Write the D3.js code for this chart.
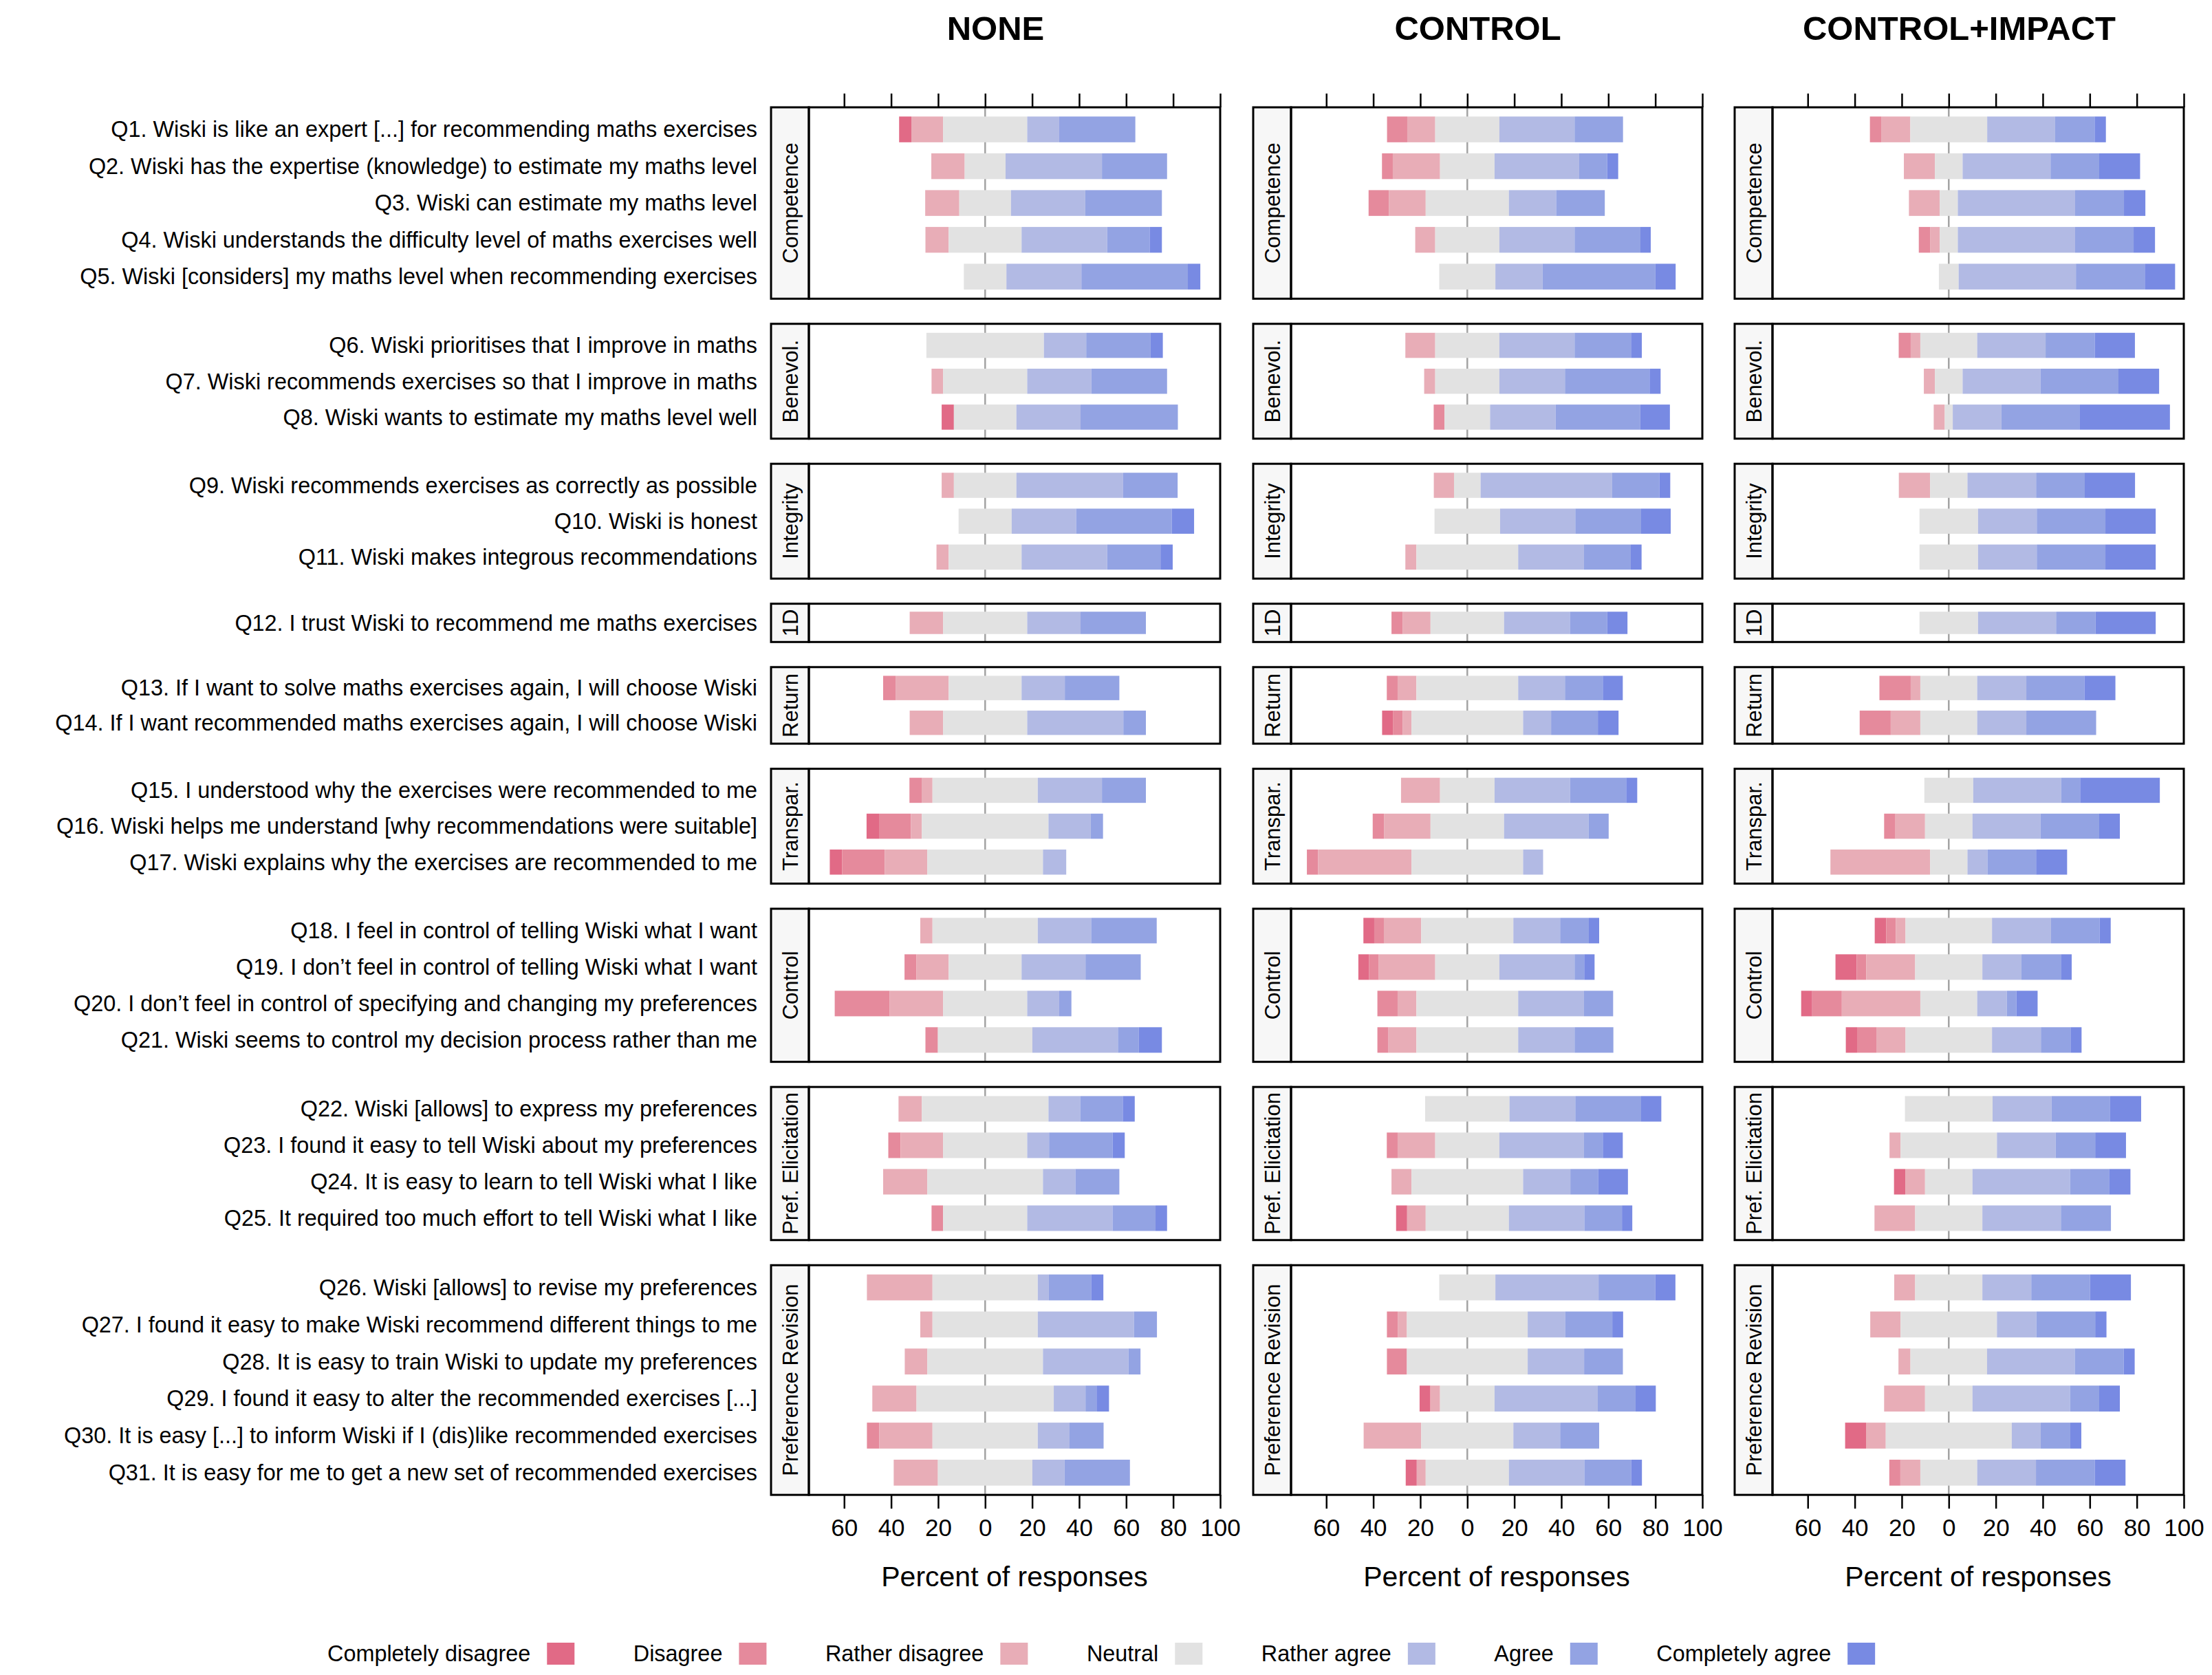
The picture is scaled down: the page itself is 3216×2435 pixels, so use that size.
<!DOCTYPE html>
<html>
<head>
<meta charset="utf-8">
<script src="https://cdnjs.cloudflare.com/ajax/libs/d3/7.8.5/d3.min.js"></script>
<style>
  body { margin: 0; background: #fff; }
  svg { display: block; }
</style>
</head>
<body>
<div id="chart"></div>
<script>
// answer levels, from most negative to most positive
const levels = ["Completely disagree", "Disagree", "Rather disagree", "Neutral",
  "Rather agree", "Agree", "Completely agree"];
const levelColors = ["#E16A86", "#E58A9C", "#E8ADB7", "#E2E2E2", "#B2BAE4", "#93A3E3", "#788AE3"];

const conditions = ["NONE", "CONTROL", "CONTROL+IMPACT"];

const groups = ["Competence", "Benevol.", "Integrity", "1D", "Return", "Transpar.",
  "Control", "Pref. Elicitation", "Preference Revision"];
const groupSizes = [5, 3, 3, 1, 2, 3, 4, 4, 6];

const questions = [
  "Q1. Wiski is like an expert [...] for recommending maths exercises",
  "Q2. Wiski has the expertise (knowledge) to estimate my maths level",
  "Q3. Wiski can estimate my maths level",
  "Q4. Wiski understands the difficulty level of maths exercises well",
  "Q5. Wiski [considers] my maths level when recommending exercises",
  "Q6. Wiski prioritises that I improve in maths",
  "Q7. Wiski recommends exercises so that I improve in maths",
  "Q8. Wiski wants to estimate my maths level well",
  "Q9. Wiski recommends exercises as correctly as possible",
  "Q10. Wiski is honest",
  "Q11. Wiski makes integrous recommendations",
  "Q12. I trust Wiski to recommend me maths exercises",
  "Q13. If I want to solve maths exercises again, I will choose Wiski",
  "Q14. If I want recommended maths exercises again, I will choose Wiski",
  "Q15. I understood why the exercises were recommended to me",
  "Q16. Wiski helps me understand [why recommendations were suitable]",
  "Q17. Wiski explains why the exercises are recommended to me",
  "Q18. I feel in control of telling Wiski what I want",
  "Q19. I don\u2019t feel in control of telling Wiski what I want",
  "Q20. I don\u2019t feel in control of specifying and changing my preferences",
  "Q21. Wiski seems to control my decision process rather than me",
  "Q22. Wiski [allows] to express my preferences",
  "Q23. I found it easy to tell Wiski about my preferences",
  "Q24. It is easy to learn to tell Wiski what I like",
  "Q25. It required too much effort to tell Wiski what I like",
  "Q26. Wiski [allows] to revise my preferences",
  "Q27. I found it easy to make Wiski recommend different things to me",
  "Q28. It is easy to train Wiski to update my preferences",
  "Q29. I found it easy to alter the recommended exercises [...]",
  "Q30. It is easy [...] to inform Wiski if I (dis)like recommended exercises",
  "Q31. It is easy for me to get a new set of recommended exercises"
];

// percent of responses per question, in the order of levels
const valuesNone = [
  [5.2, 0, 13.5, 35.8, 13.6, 32.4, 0],
  [0, 0, 14.2, 17.4, 41.0, 27.7, 0],
  [0, 0, 14.5, 22.0, 31.6, 32.6, 0],
  [0, 0, 9.9, 31.0, 36.4, 18.1, 5.2],
  [0, 0, 0, 18.1, 31.9, 45.3, 5.3],
  [0, 0, 0, 50.0, 18.0, 27.4, 5.2],
  [0, 0, 4.9, 35.8, 27.3, 32.2, 0],
  [5.2, 0, 0, 26.6, 27.3, 41.4, 0],
  [0, 0, 5.2, 26.6, 45.4, 23.2, 0],
  [0, 0, 0, 22.6, 27.4, 40.7, 9.5],
  [0, 0, 5.2, 31.0, 36.4, 22.7, 5.2],
  [0, 0, 14.2, 35.8, 22.7, 27.8, 0],
  [0, 5.3, 22.6, 31.0, 18.4, 23.2, 0],
  [0, 0, 14.2, 35.8, 40.9, 9.6, 0],
  [0, 5.2, 4.6, 44.8, 27.3, 18.7, 0],
  [5.3, 13.6, 4.6, 53.9, 18.0, 5.2, 0],
  [5.3, 18.1, 18.1, 49.2, 9.9, 0, 0],
  [0, 0, 5.2, 44.8, 22.7, 27.9, 0],
  [0, 5.1, 13.7, 31.0, 27.2, 23.5, 0],
  [0, 23.4, 22.7, 35.8, 13.6, 5.2, 0],
  [0, 5.3, 0, 40.2, 36.4, 8.9, 9.8],
  [0, 0, 9.9, 53.9, 13.5, 18.1, 5.1],
  [0, 5.2, 18.1, 35.8, 9.3, 27.0, 5.2],
  [0, 0, 18.8, 49.2, 13.8, 18.7, 0],
  [0, 4.9, 0, 35.8, 36.3, 18.3, 4.9],
  [0, 0, 27.9, 44.8, 4.7, 18.0, 5.2],
  [0, 0, 5.2, 44.8, 40.9, 9.8, 0],
  [0, 0, 9.6, 49.2, 36.4, 5.1, 0],
  [0, 0, 18.8, 58.4, 13.5, 4.7, 5.3],
  [0, 5.3, 22.6, 44.8, 13.5, 14.5, 0],
  [0, 0, 18.8, 40.2, 13.7, 27.8, 0]
];

const valuesControl = [
  [0, 8.6, 11.9, 27.3, 32.0, 20.6, 0],
  [0, 4.6, 20.1, 23.2, 36.0, 11.9, 4.7],
  [0, 8.6, 15.7, 35.4, 20.1, 20.7, 0],
  [0, 0, 8.5, 27.3, 32.0, 28.0, 4.4],
  [0, 0, 0, 23.9, 20.1, 48.0, 8.6],
  [0, 0, 12.7, 27.3, 32.0, 24.0, 4.6],
  [0, 0, 4.7, 27.3, 27.9, 36.0, 4.7],
  [0, 4.6, 0, 19.4, 27.9, 36.0, 12.6],
  [0, 0, 8.6, 11.3, 56.0, 20.1, 4.6],
  [0, 0, 0, 27.9, 32.0, 28.0, 12.6],
  [0, 0, 4.7, 43.3, 28.0, 19.9, 4.6],
  [0, 4.7, 11.9, 31.3, 28.0, 15.9, 8.6],
  [0, 4.6, 8.0, 43.3, 19.9, 16.1, 8.5],
  [4.6, 4.1, 3.8, 47.5, 11.9, 19.9, 8.8],
  [0, 0, 16.6, 23.2, 32.1, 23.9, 4.7],
  [0, 4.8, 19.8, 31.3, 36.0, 8.5, 0],
  [0, 4.8, 39.7, 47.5, 8.5, 0, 0],
  [4.6, 4.1, 15.9, 39.2, 19.9, 12.2, 4.4],
  [4.6, 4.1, 24.0, 27.3, 32.0, 4.1, 4.4],
  [0, 8.6, 8.0, 43.3, 28.0, 12.4, 0],
  [0, 4.7, 11.9, 43.3, 24.0, 16.5, 0],
  [0, 0, 0, 35.9, 28.0, 28.0, 8.6],
  [0, 4.6, 16.0, 27.3, 36.0, 8.0, 8.5],
  [0, 0, 8.5, 47.5, 20.1, 11.8, 12.7],
  [4.7, 0, 7.9, 35.4, 32.1, 16.0, 4.4],
  [0, 0, 0, 23.9, 43.9, 24.1, 8.6],
  [0, 4.6, 3.9, 51.4, 15.9, 20.1, 4.6],
  [0, 8.5, 0, 51.4, 24.0, 16.5, 0],
  [4.6, 0, 4.1, 23.2, 43.9, 16.1, 8.6],
  [0, 0, 24.5, 39.2, 19.9, 16.6, 0],
  [4.7, 0, 3.8, 35.4, 32.1, 19.9, 4.6]
];

const valuesControlImpact = [
  [0, 4.8, 12.4, 32.7, 28.9, 16.8, 4.8],
  [0, 0, 13.2, 11.8, 37.4, 20.7, 17.4],
  [0, 0, 13.1, 7.7, 49.9, 20.8, 9.1],
  [0, 4.8, 4.1, 7.7, 49.9, 24.9, 9.1],
  [0, 0, 0, 8.4, 49.9, 29.3, 12.9],
  [0, 5.1, 4.1, 24.2, 29.1, 20.9, 17.1],
  [0, 0, 4.7, 11.8, 33.1, 33.2, 17.3],
  [0, 0, 4.7, 3.4, 20.7, 33.4, 38.3],
  [0, 0, 13.3, 15.9, 29.2, 20.7, 21.4],
  [0, 0, 0, 24.9, 25.0, 29.2, 21.4],
  [0, 0, 0, 24.9, 25.0, 29.2, 21.4],
  [0, 0, 0, 24.9, 33.2, 16.8, 25.6],
  [0, 13.3, 4.1, 24.2, 20.9, 24.7, 13.2],
  [0, 13.2, 12.6, 24.2, 20.9, 29.7, 0],
  [0, 0, 0, 20.8, 37.4, 8.1, 33.9],
  [0, 4.8, 12.6, 20.2, 28.9, 25.0, 8.8],
  [0, 0, 42.4, 15.9, 8.5, 20.7, 13.2],
  [4.9, 4.1, 4.1, 36.8, 25.1, 20.7, 4.7],
  [9.0, 4.1, 20.8, 28.6, 16.6, 16.8, 4.6],
  [4.7, 12.6, 33.4, 24.2, 12.6, 4.1, 9.0],
  [4.8, 8.2, 12.4, 36.8, 20.8, 12.6, 4.7],
  [0, 0, 0, 37.3, 25.1, 24.9, 13.2],
  [0, 0, 4.7, 41.0, 25.0, 16.8, 13.1],
  [4.8, 0, 8.4, 20.2, 41.5, 16.6, 9.1],
  [0, 0, 17.3, 28.6, 33.4, 21.3, 0],
  [0, 0, 8.9, 28.6, 20.8, 25.0, 17.4],
  [0, 0, 12.9, 41.0, 16.8, 25.0, 4.8],
  [0, 0, 5.1, 32.6, 37.3, 20.8, 4.7],
  [0, 0, 17.4, 20.2, 41.5, 12.4, 8.8],
  [8.9, 0, 8.4, 53.6, 12.3, 12.6, 4.7],
  [0, 4.7, 8.5, 24.2, 25.0, 25.0, 13.1]
];

const xTicks = [-60, -40, -20, 0, 20, 40, 60, 80, 100];
const xLabel = "Percent of responses";

const conditionValues = [valuesNone, valuesControl, valuesControlImpact];

// ---------------------------------------------------------------- layout
const width = 3216, height = 2435;
const font = "'Liberation Sans', Arial, Helvetica, sans-serif";
const panelLeft = [1176, 1877, 2577];
const panelW = 598;
const stripW = 55;
const plotTop = 156;
const rowH = 55.65;
const panelGap = 36.5;
const labelRight = 1101;

const svg = d3.select("#chart").append("svg")
  .attr("width", width)
  .attr("height", height)
  .style("font-family", font);

svg.append("rect").attr("width", width).attr("height", height).attr("fill", "#fff");

const x = d3.scaleLinear().domain([-75, 100]).range([0, panelW]);

// vertical position of every group panel
let cursor = plotTop;
const groupLayout = groups.map((name, gi) => {
  const n = groupSizes[gi];
  const start = d3.sum(groupSizes.slice(0, gi));
  const h = n * rowH;
  const rows = d3.range(start, start + n);
  const y = d3.scaleBand().domain(rows).range([0, h])
    .paddingInner(0.3).paddingOuter(0.25);
  const g = { name, n, top: cursor, h, rows, y };
  cursor += h + panelGap;
  return g;
});
const plotBottom = groupLayout[groupLayout.length - 1].top + groupLayout[groupLayout.length - 1].h;

// turn one row of percentages into segments centered on neutral
function segments(vals) {
  let pos = -(vals[0] + vals[1] + vals[2] + vals[3] / 2);
  return vals.map((v, i) => {
    const s = { x0: pos, x1: pos + v, level: i };
    pos += v;
    return s;
  }).filter(s => s.x1 - s.x0 > 0);
}

// question labels
groupLayout.forEach(gl => {
  svg.append("g")
    .selectAll("text")
    .data(gl.rows)
    .enter().append("text")
    .attr("x", labelRight)
    .attr("y", d => gl.top + gl.y(d) + gl.y.bandwidth() / 2)
    .attr("dy", "0.35em")
    .attr("text-anchor", "end")
    .attr("font-size", 32.4)
    .attr("fill", "#000")
    .text(d => questions[d]);
});

conditions.forEach((cond, ci) => {
  const px = panelLeft[ci];
  const values = conditionValues[ci];
  const col = svg.append("g").attr("class", "condition");

  // title
  col.append("text")
    .attr("x", px - stripW + (stripW + panelW) / 2)
    .attr("y", 58)
    .attr("text-anchor", "middle")
    .attr("font-size", 49)
    .attr("font-weight", "bold")
    .text(cond);

  groupLayout.forEach((gl, gi) => {
    const panel = col.append("g").attr("transform", `translate(${px},${gl.top})`);

    // strip on the left
    panel.append("rect")
      .attr("x", -stripW).attr("y", 0)
      .attr("width", stripW).attr("height", gl.h)
      .attr("fill", "#F7F7F7")
      .attr("stroke", "#000").attr("stroke-width", 3);
    panel.append("text")
      .attr("transform", `translate(${-stripW / 2},${gl.h / 2}) rotate(-90)`)
      .attr("text-anchor", "middle")
      .attr("dy", "0.36em")
      .attr("font-size", 31)
      .text(gl.name);

    // zero reference line
    panel.append("line")
      .attr("x1", x(0)).attr("x2", x(0))
      .attr("y1", 0).attr("y2", gl.h)
      .attr("stroke", "#A3A3A3").attr("stroke-width", 2.5);

    // stacked bars
    const rowG = panel.selectAll("g.row")
      .data(gl.rows)
      .enter().append("g")
      .attr("class", "row")
      .attr("transform", d => `translate(0,${gl.y(d)})`);

    rowG.selectAll("rect")
      .data(d => segments(values[d]))
      .enter().append("rect")
      .attr("x", s => x(s.x0))
      .attr("width", s => x(s.x1) - x(s.x0))
      .attr("y", 0)
      .attr("height", gl.y.bandwidth())
      .attr("fill", s => levelColors[s.level]);

    // panel frame
    panel.append("rect")
      .attr("x", 0).attr("y", 0)
      .attr("width", panelW).attr("height", gl.h)
      .attr("fill", "none")
      .attr("stroke", "#000").attr("stroke-width", 3);

    // axes: ticks on top of the first panel, labelled axis under the last
    if (gi === 0) {
      const top = panel.append("g")
        .call(d3.axisTop(x).tickValues(xTicks).tickSize(20).tickFormat(""));
      top.select(".domain").remove();
      top.selectAll("line").attr("stroke", "#000").attr("stroke-width", 2.5);
    }
    if (gi === groupLayout.length - 1) {
      const bottom = panel.append("g")
        .attr("transform", `translate(0,${gl.h})`)
        .call(d3.axisBottom(x).tickValues(xTicks).tickSize(20).tickPadding(15)
          .tickFormat(d => Math.abs(d)));
      bottom.select(".domain").remove();
      bottom.selectAll("line").attr("stroke", "#000").attr("stroke-width", 2.5);
      bottom.selectAll("text")
        .attr("font-size", 35)
        .attr("font-family", font)
        .attr("fill", "#000");
    }
  });

  // x axis title
  col.append("text")
    .attr("x", px + panelW / 2)
    .attr("y", plotBottom + 133)
    .attr("text-anchor", "middle")
    .attr("font-size", 41)
    .text(xLabel);
});

// legend: label followed by its colour key
const legend = svg.append("g").attr("transform", "translate(476,2404)");
let lx = 0;
levels.forEach((lev, i) => {
  const t = legend.append("text")
    .attr("x", lx).attr("y", 0)
    .attr("dy", "0.35em")
    .attr("font-size", 32.4)
    .text(lev);
  const w = t.node().getComputedTextLength();
  legend.append("rect")
    .attr("x", lx + w + 24).attr("y", -16)
    .attr("width", 40).attr("height", 32)
    .attr("fill", levelColors[i]);
  lx += w + 24 + 40 + 85.5;
});
</script>
</body>
</html>
